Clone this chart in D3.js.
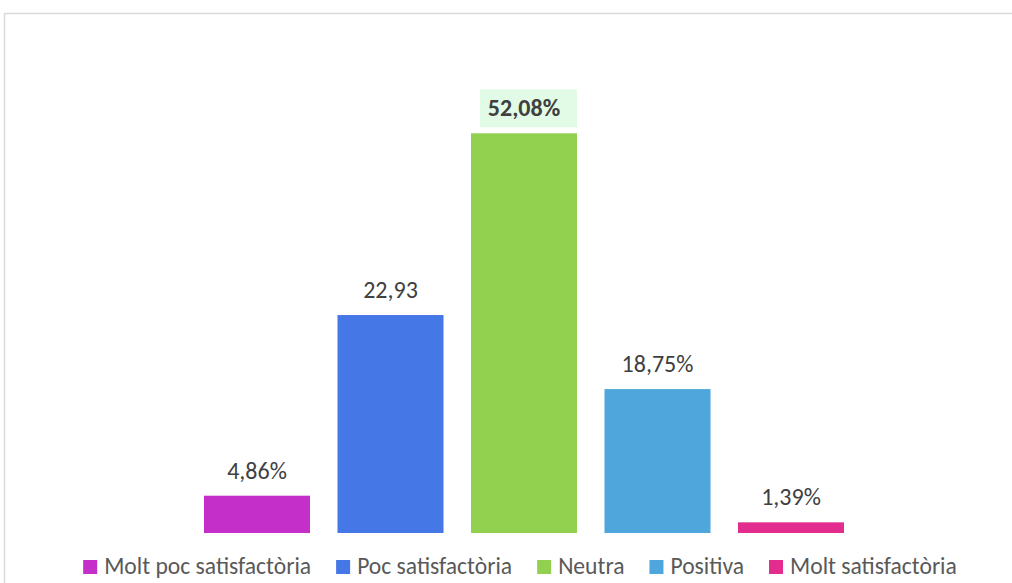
<!DOCTYPE html>
<html>
<head>
<meta charset="utf-8">
<script src="https://cdn.jsdelivr.net/npm/d3@7"></script>
<style>
  html, body { margin: 0; padding: 0; background: #ffffff; }
  svg { display: block; }
  text { font-family: Carlito, Calibri, Lato, "Open Sans", sans-serif; }
</style>
</head>
<body>
<svg id="chart" width="1012" height="583"></svg>
<script>
const categories = ["Molt poc satisfactòria", "Poc satisfactòria", "Neutra", "Positiva", "Molt satisfactòria"];
const values = [4.86, 28.4, 52.08, 18.75, 1.39];
const valueLabels = ["4,86%", "22,93", "52,08%", "18,75%", "1,39%"];
const colors = ["#C42FC9", "#4677E6", "#92D050", "#4EA6DC", "#E22D8F"];
const highlighted = "Neutra";

const svg = d3.select("#chart");
const W = 1012, H = 583;

svg.append("rect").attr("width", W).attr("height", H).attr("fill", "#ffffff");
// chart area border (extends beyond the visible window on right/bottom)
svg.append("rect")
  .attr("x", 4.5).attr("y", 13.5).attr("width", W + 20).attr("height", H + 20)
  .attr("fill", "#ffffff").attr("stroke", "#D9D9D9").attr("stroke-width", 1.5);

const x = d3.scaleBand().domain(categories).range([190.25, 857.75])
  .paddingInner(0.206).paddingOuter(0.103);
const y = d3.scaleLinear().domain([0, 60]).range([533, 72.5]);

const color = d3.scaleOrdinal().domain(categories).range(colors);

const data = categories.map((c, i) => ({ cat: c, v: values[i], label: valueLabels[i] }));

svg.append("g").selectAll("rect").data(data).join("rect")
  .attr("x", d => x(d.cat))
  .attr("y", d => y(d.v))
  .attr("width", x.bandwidth())
  .attr("height", d => y(0) - y(d.v))
  .attr("fill", d => color(d.cat));

const fontSize = 24;
const labels = svg.append("g");
data.forEach(d => {
  const cx = x(d.cat) + x.bandwidth() / 2;
  const by = y(d.v) - 17;
  if (d.cat === highlighted) {
    labels.append("rect")
      .attr("x", cx - 44).attr("y", by - 27)
      .attr("width", 97).attr("height", 38)
      .attr("fill", "#E2FBE6");
  }
  labels.append("text")
    .attr("x", cx).attr("y", by)
    .attr("text-anchor", "middle")
    .attr("font-size", fontSize)
    .attr("font-weight", d.cat === highlighted ? "bold" : "normal")
    .attr("fill", "#404040")
    .text(d.label);
});

// legend
const legend = svg.append("g");
const items = [];
categories.forEach(c => {
  const g = legend.append("g");
  g.append("rect").attr("x", 0).attr("y", -14).attr("width", 14).attr("height", 14).attr("fill", color(c));
  const t = g.append("text").attr("x", 21).attr("y", 0).attr("font-size", 23.6).attr("fill", "#595959").text(c);
  items.push({ g, w: 21 + t.node().getComputedTextLength() });
});
const gap = 25;
const total = d3.sum(items, d => d.w) + gap * (items.length - 1);
let cur = 520 - total / 2;
items.forEach(it => {
  it.g.attr("transform", `translate(${cur},574)`);
  cur += it.w + gap;
});
</script>
</body>
</html>
